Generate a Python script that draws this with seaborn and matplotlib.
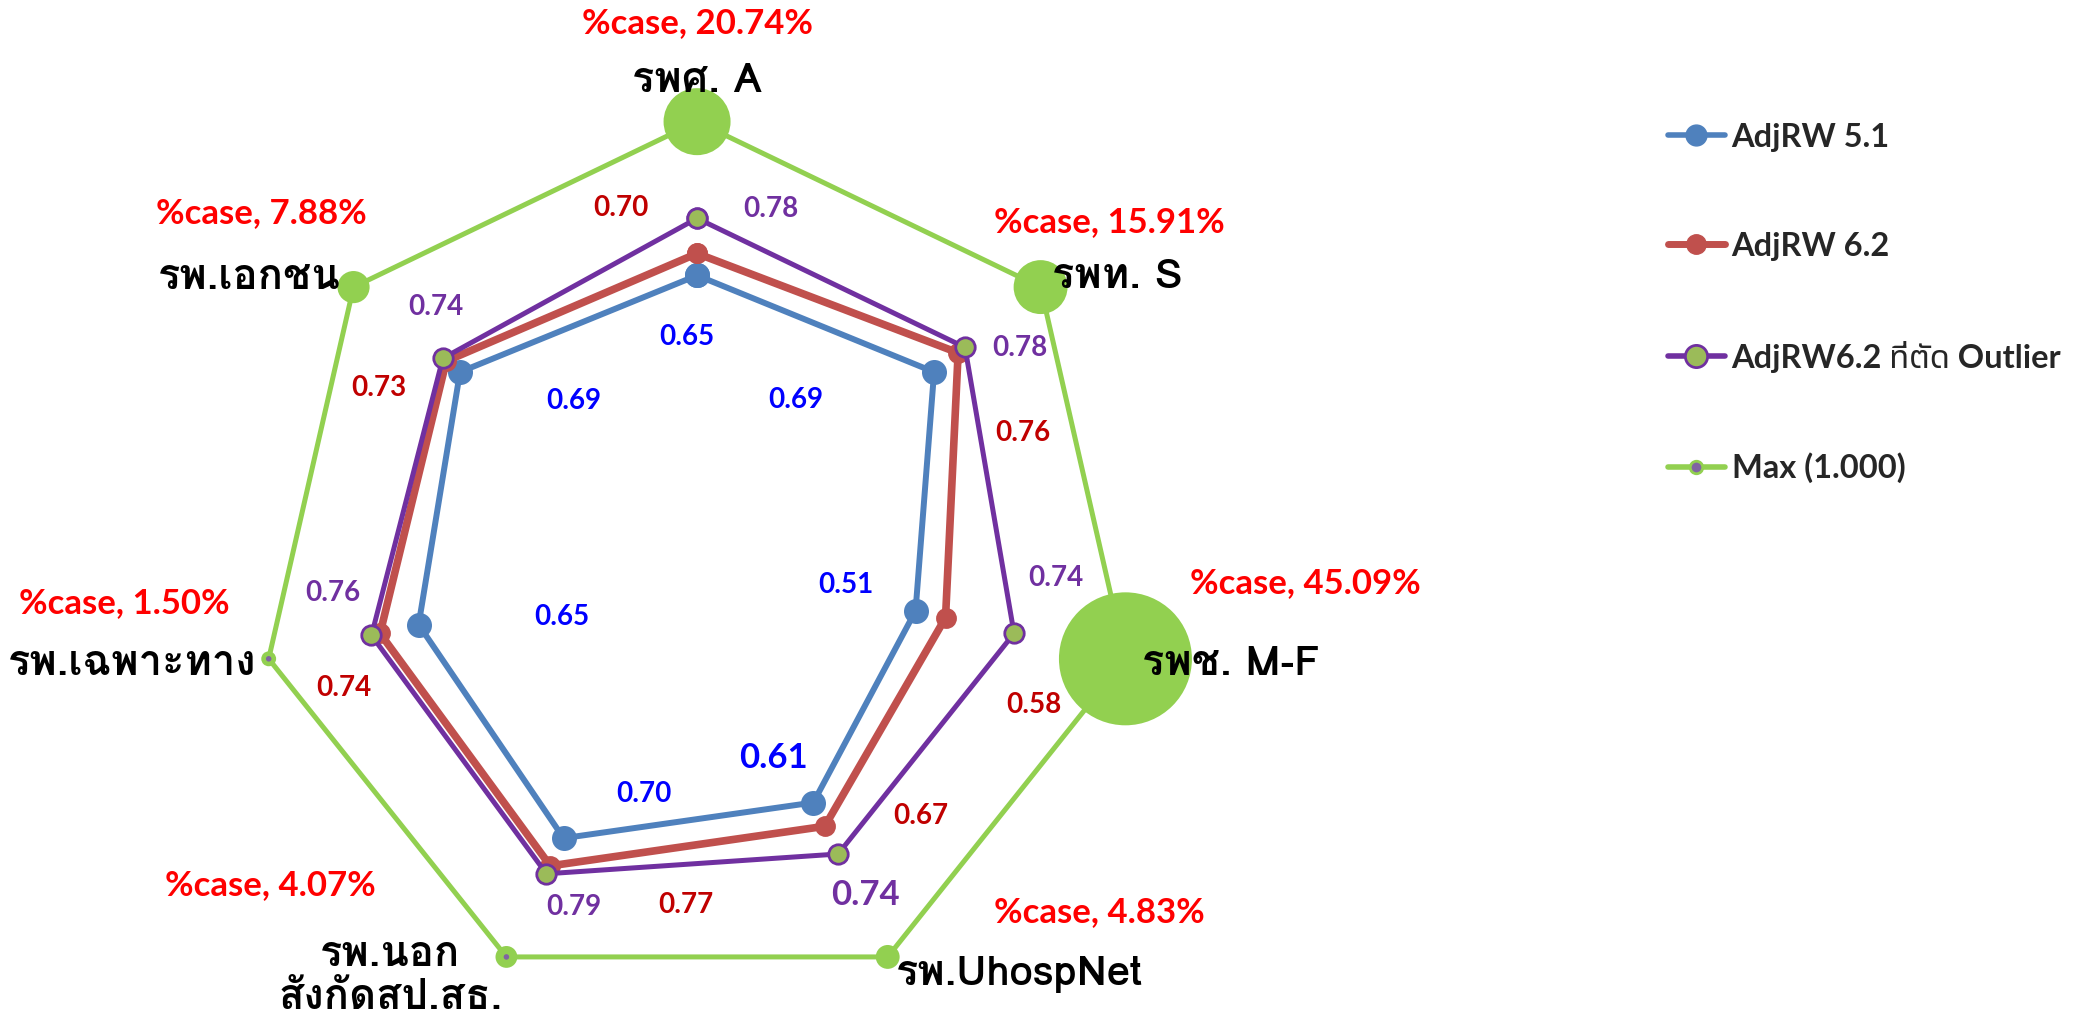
import numpy as np
import pandas as pd
import matplotlib
matplotlib.use("Agg")
import matplotlib.pyplot as plt
from matplotlib.lines import Line2D
import seaborn as sns

categories = ["รพศ. A", "รพท. S", "รพช. M-F", "รพ.UhospNet",
              "รพ.นอก\nสังกัดสป.สธ.", "รพ.เฉพาะทาง", "รพ.เอกชน"]
pct_case = [20.74, 15.91, 45.09, 4.83, 4.07, 1.50, 7.88]
adjrw51 = [0.65, 0.69, 0.51, 0.61, 0.70, 0.65, 0.69]
adjrw62 = [0.70, 0.76, 0.58, 0.67, 0.77, 0.74, 0.73]
adjrw62_out = [0.78, 0.78, 0.74, 0.74, 0.79, 0.76, 0.74]
max_val = [1.0] * 7
series_names = ["AdjRW 5.1", "AdjRW 6.2", "AdjRW6.2 ที่ตัด Outlier", "Max (1.000)"]

sns.set_theme(style="white")
plt.rcParams["font.family"] = ["Lato", "Noto Sans Thai", "DejaVu Sans"]
plt.rcParams["font.weight"] = "bold"
CAT_FONT = ["Loma", "Noto Sans Thai", "DejaVu Sans"]

n = len(categories)
theta = np.linspace(0, 2 * np.pi, n, endpoint=False)

# long table, first point repeated at 2*pi to close each polygon
rows = []
for name, vals in zip(series_names, [adjrw51, adjrw62, adjrw62_out, max_val]):
    for i in range(n):
        rows.append({"series": name, "theta": theta[i], "value": vals[i]})
    rows.append({"series": name, "theta": 2 * np.pi, "value": vals[0]})
df = pd.DataFrame(rows)

fig = plt.figure(figsize=(20.98, 10.13), dpi=100)
ax = fig.add_axes([0.1228, 0.0124, 0.4189, 0.8675], projection="polar")
ax.set_theta_zero_location("N")
ax.set_theta_direction(-1)
ax.set_ylim(0, 1)
ax.grid(False)
ax.set_xticks([])
ax.set_yticks([])
ax.spines["polar"].set_visible(False)
ax.patch.set_alpha(0)

styles = {
    "Max (1.000)": dict(color="#92D050", lw=3.6, marker=None, zorder=1),
    "AdjRW 5.1": dict(color="#4F81BD", lw=4.3, marker="o", ms=16, mfc="#4F81BD", mec="#4F81BD", zorder=3),
    "AdjRW 6.2": dict(color="#C0504D", lw=5.5, marker="o", ms=13, mfc="#C0504D", mec="#C0504D", zorder=4),
    "AdjRW6.2 ที่ตัด Outlier": dict(color="#7030A0", lw=3.6, marker="o", ms=14, mfc="#9BBB59", mec="#7030A0", zorder=5),
}
for name in series_names:
    st = styles[name]
    sub = df[df.series == name]
    kw = dict(color=st["color"], linewidth=st["lw"], zorder=st["zorder"], clip_on=False)
    if st["marker"]:
        kw.update(marker=st["marker"], markersize=st["ms"], markerfacecolor=st["mfc"],
                  markeredgecolor=st["mec"], markeredgewidth=2)
    sns.lineplot(data=sub, x="theta", y="value", sort=False, estimator=None, ax=ax, legend=False, **kw)

# bubbles at the max vertices, sized by %case
diam_px = 10.8 + 2.71 * np.array(pct_case)
sns.scatterplot(x=theta, y=max_val, s=(diam_px / 1.389) ** 2, color="#92D050", edgecolor="none",
                zorder=2, clip_on=False, legend=False, ax=ax)
small = np.array(pct_case) < 4.5
ax.scatter(theta[small], np.array(max_val)[small], s=16, color="#8064A2", edgecolor="none",
           zorder=2.5, clip_on=False)
ax.set_xlabel("")
ax.set_ylabel("")

# label offsets in pixels from each point (x right, y down)
blue_off = [(-10, 62), (-138, 28), (-70, -26), (-40, -45), (80, -44), (143, -8), (114, 29)]
red_off = [(-76, -45), (65, 80), (88, 87), (96, -10), (136, 39), (-36, 55), (-67, 27)]
purple_off = [(74, -9), (55, 1), (42, -55), (27, 41), (27, 33), (-39, -42), (-7, -51)]
pct_off = [(0, -99), (69, -65), (180, -76), (212, -45), (-236, -72), (-144, -56), (-92, -74)]
cat_off = [(0, -40), (77, -10), (105, 6), (132, 18), (-116, 20), (-137, 6), (-104, -9)]
big_label = {("b", 3), ("p", 3)}


def put(txt, t, r, off, color, size, family=None):
    kw = {"family": family} if family else {}
    ax.annotate(txt, xy=(t, r), xytext=(off[0], -off[1]), textcoords="offset pixels",
                ha="center", va="center", color=color, fontsize=size, fontweight="bold",
                annotation_clip=False, zorder=10, **kw)


for i in range(n):
    put(f"{adjrw51[i]:.2f}", theta[i], adjrw51[i], blue_off[i], "#0000FF", 25 if ("b", i) in big_label else 20)
    put(f"{adjrw62[i]:.2f}", theta[i], adjrw62[i], red_off[i], "#C00000", 20)
    put(f"{adjrw62_out[i]:.2f}", theta[i], adjrw62_out[i], purple_off[i], "#7030A0", 25 if ("p", i) in big_label else 20)
    put(f"%case, {pct_case[i]:.2f}%", theta[i], max_val[i], pct_off[i], "#FF0000", 25)
    put(categories[i], theta[i], max_val[i], cat_off[i], "black", 30, CAT_FONT)

handles = [
    Line2D([], [], color="#4F81BD", lw=4, marker="o", ms=15, mfc="#4F81BD", mec="#4F81BD"),
    Line2D([], [], color="#C0504D", lw=5, marker="o", ms=14, mfc="#C0504D", mec="#C0504D"),
    Line2D([], [], color="#7030A0", lw=4, marker="o", ms=16, mfc="#9BBB59", mec="#7030A0", mew=2),
    Line2D([], [], color="#92D050", lw=4, marker="o", ms=9, mfc="#8064A2", mec="#92D050", mew=2),
]
fig.legend(handles, series_names, loc="upper left", bbox_to_anchor=(0.781, 0.908), frameon=False,
           labelspacing=2.45, handlelength=1.75, handletextpad=0.2,
           prop={"weight": "bold", "size": 23.5})

fig.savefig("out.png", dpi=100)
